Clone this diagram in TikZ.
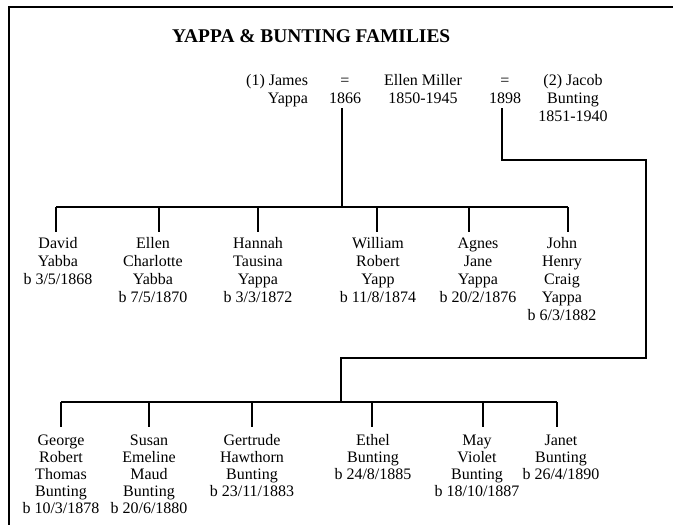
\documentclass[tikz,border=0pt]{standalone}
\usepackage{fontspec}
\setmainfont{Liberation Serif}
\begin{document}
\begin{tikzpicture}[x=1pt,y=-1pt,
  every node/.style={inner sep=0pt, outer sep=0pt},
  person/.style={font=\fontsize{16}{18}\selectfont, align=center, anchor=north},
  kid/.style={font=\fontsize{16}{17}\selectfont, align=center, anchor=north},
  link/.style={line width=1.6pt},
  frameline/.style={line width=1.5pt}]
\useasboundingbox[fill=white] (0,0) rectangle (673,525);
\draw[frameline] (9,525) -- (9,7) -- (673,7);

\node[anchor=base west, font=\fontsize{19.4}{22}\selectfont\bfseries] (title) at (172,42) {YAPPA \& BUNTING FAMILIES};

% parents row
\node[person, anchor=north east, align=right] (james) at (308,72.4) {\strut (1) James\\Yappa};
\node[person] (m1) at (345,72.4) {\strut =\\1866};
\node[person] (ellen) at (423,72.4) {\strut Ellen Miller\\1850-1945};
\node[person] (m2) at (505,72.4) {\strut =\\1898};
\node[person] (jacob) at (573,72.4) {\strut (2) Jacob\\Bunting\\1851-1940};

% Yappa children
\node[person] (c1) at (58,235.4) {\strut David\\Yabba\\b 3/5/1868};
\node[person] (c2) at (153,235.4) {\strut Ellen\\Charlotte\\Yabba\\b 7/5/1870};
\node[person] (c3) at (258,235.4) {\strut Hannah\\Tausina\\Yappa\\b 3/3/1872};
\node[person] (c4) at (378,235.4) {\strut William\\Robert\\Yapp\\b 11/8/1874};
\node[person] (c5) at (478,235.4) {\strut Agnes\\Jane\\Yappa\\b 20/2/1876};
\node[person] (c6) at (562,235.4) {\strut John\\Henry\\Craig\\Yappa\\b 6/3/1882};

% Bunting children
\node[kid] (g1) at (61,433.1) {\strut George\\Robert\\Thomas\\Bunting\\b 10/3/1878};
\node[kid] (g2) at (149,433.1) {\strut Susan\\Emeline\\Maud\\Bunting\\b 20/6/1880};
\node[kid] (g3) at (252,433.1) {\strut Gertrude\\Hawthorn\\Bunting\\b 23/11/1883};
\node[kid] (g4) at (373,433.1) {\strut Ethel\\Bunting\\b 24/8/1885};
\node[kid] (g5) at (477,433.1) {\strut May\\Violet\\Bunting\\b 18/10/1887};
\node[kid] (g6) at (561,433.1) {\strut Janet\\Bunting\\b 26/4/1890};

% junction coordinates
\coordinate (j1) at (342,207);
\coordinate (a1) at (56,207);
\coordinate (a2) at (159,207);
\coordinate (a3) at (258,207);
\coordinate (a4) at (377,207);
\coordinate (a5) at (469,207);
\coordinate (a6) at (568,207);

\coordinate (t1) at (502,160);
\coordinate (t2) at (646,160);
\coordinate (t3) at (646,358);
\coordinate (t4) at (341,358);
\coordinate (j2) at (341,402);
\coordinate (b1) at (61,402);
\coordinate (b2) at (149,402);
\coordinate (b3) at (252,402);
\coordinate (b4) at (372,402);
\coordinate (b5) at (483,402);
\coordinate (b6) at (557,402);

% Yappa family lines
\draw[link, shorten <=5pt] (j1 |- m1.south) -- (j1);
\draw[link] (a1) -- (a6);
\foreach \i in {1,...,6} {
  \draw[link, shorten >=3.4pt] (a\i) -- (a\i |- c\i.north);
}

% Bunting family lines
\draw[link, shorten <=5pt] (t1 |- m2.south) -- (t1) -- (t2) -- (t3) -- (t4) -- (j2);
\draw[link] (b1) -- (b6);
\foreach \i in {1,...,6} {
  \draw[link, shorten >=6pt] (b\i) -- (b\i |- g\i.north);
}
\end{tikzpicture}
\end{document}
